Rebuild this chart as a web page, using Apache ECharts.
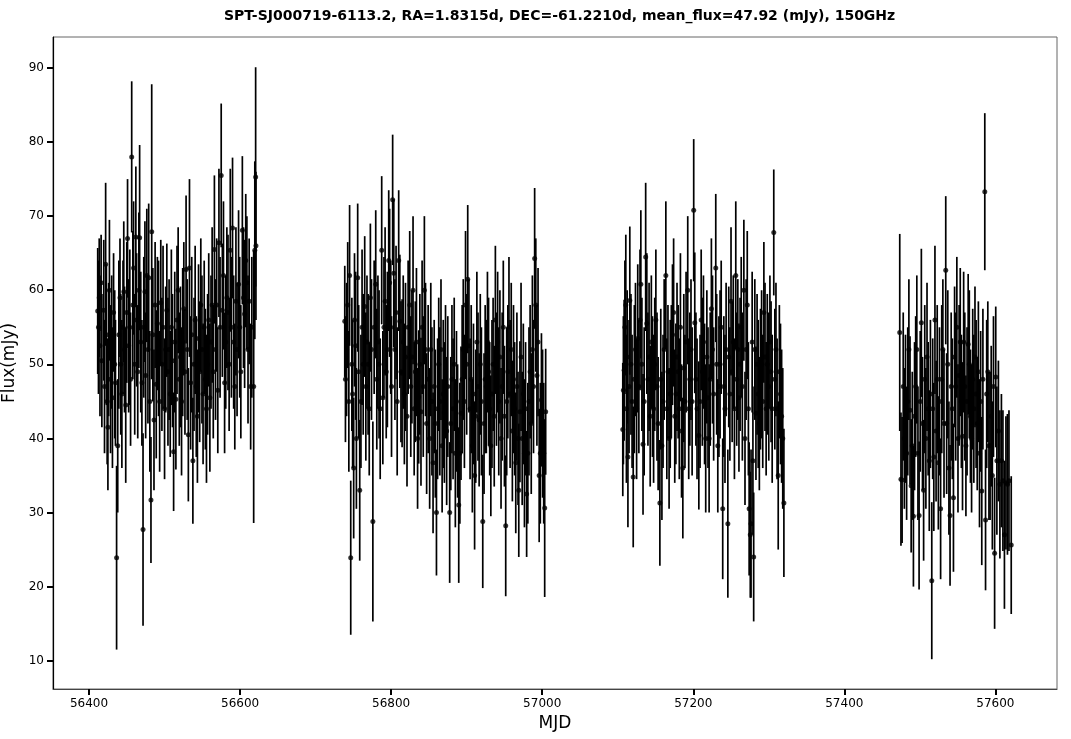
<!DOCTYPE html>
<html><head><meta charset="utf-8">
<script src="https://cdn.jsdelivr.net/npm/echarts@6/dist/echarts.min.js"></script>
<style>html,body{margin:0;padding:0;background:#fff}#c{width:1071px;height:739px}</style>
</head><body><div id="c"></div>
<script>
// [MJD, flux (mJy), error (mJy)]
const season1 = [
[56411.5,57.2,8.5],[56412.5,55.0,9.0],[56413.5,59.0,8.0],[56414.5,52.5,9.5],[56416,61.0,6.5],[56417,50.5,9.0],
[56419.5,57.3,9.5],[56420.5,47.0,9.0],[56422,63.5,11.0],[56423,54.0,9.5],[56424,45.0,8.5],[56425,41.5,8.5],
[56426,52.0,9.0],[56427,60.0,9.5],[56428.5,48.0,10.0],[56430,53.0,9.0],[56431,45.5,9.5],[56432.5,57.0,8.0],
[56434,50.0,10.0],[56435,47.5,8.5],[56436.5,23.9,12.4],[56438,39.0,9.0],[56439.5,54.0,10.0],[56441,59.0,8.0],
[56442,50.0,9.5],[56443.5,46.0,10.0],[56445,55.0,9.0],[56446,59.8,9.5],[56447,52.0,8.5],[56448.6,44.5,10.5],
[56450,57.0,9.5],[56451,67.0,8.0],[56452.5,52.5,9.0],[56454,55.0,10.5],[56455,48.0,9.0],[56456.5,78.0,10.2],
[56458,58.0,10.0],[56459,63.0,9.0],[56460.5,50.0,9.5],[56462,67.2,9.5],[56463,56.0,9.0],[56464.5,49.0,9.0],
[56466,60.0,10.5],[56467,67.1,12.5],[56468.5,53.0,9.5],[56470,47.5,8.5],[56471.5,27.7,13.0],[56472.5,55.0,9.5],
[56474,59.8,9.5],[56475,48.5,8.5],[56476.5,62.0,9.0],[56478,52.0,10.0],[56479,61.7,10.0],[56480.5,45.0,9.5],
[56482,31.7,8.5],[56483,67.9,19.9],[56484.5,54.0,9.0],[56486,42.5,9.5],[56487.5,58.0,8.5],[56489,47.3,10.0],
[56490.5,55.5,9.0],[56492,53.5,10.5],[56493.5,45.0,9.5],[56495,58.3,8.5],[56496.5,50.0,9.0],[56498,55.0,11.0],
[56500,44.0,9.5],[56501.5,52.0,8.5],[56503,57.3,9.0],[56504.5,49.0,10.0],[56506,52.0,9.5],[56507.5,46.0,8.5],
[56509,55.0,10.5],[56510.5,50.5,9.0],[56512,38.2,8.0],[56513.5,53.0,9.5],[56515,45.3,9.5],[56516.5,56.0,10.0],
[56518,60.0,8.5],[56519.5,48.0,9.0],[56521,51.0,9.5],[56522.5,45.0,10.0],[56524,53.0,10.0],[56525.5,57.5,9.0],
[56527,49.0,8.5],[56528.5,62.8,10.0],[56530,52.0,9.5],[56531.5,40.5,9.0],[56533,63.0,12.0],[56534.5,47.5,9.0],
[56536,54.0,10.5],[56537.5,37.0,8.5],[56539,50.0,9.0],[56540.5,56.0,10.0],[56542,47.0,9.5],[56543.5,43.0,9.0],
[56545,53.5,10.0],[56546.5,49.0,9.5],[56548,58.0,9.0],[56549.5,52.0,10.0],[56551,46.0,9.5],[56552.5,55.0,9.0],
[56554,48.0,9.5],[56555.5,44.0,10.0],[56557,50.0,9.5],[56558.5,56.0,9.0],[56560,45.5,10.0],[56561.5,53.0,9.0],
[56563,58.0,10.5],[56564.5,49.0,9.0],[56566,65.5,10.0],[56567.5,52.0,9.5],[56569,58.0,9.0],[56570.5,46.5,8.5],
[56572,66.4,10.0],[56573.5,55.0,9.5],[56575,75.5,9.7],[56576.5,57.3,9.0],[56578,62.0,10.0],[56579.5,47.5,9.5],
[56581,53.0,9.0],[56582.5,59.0,9.5],[56584,57.0,10.5],[56585.5,50.0,9.0],[56587,65.4,11.0],[56588.5,55.0,9.5],
[56590,68.4,9.5],[56591.5,53.0,9.0],[56593,47.0,8.5],[56594.5,58.5,10.0],[56596,52.0,9.0],[56598,60.8,10.0],
[56599.5,55.0,9.5],[56601,49.0,9.0],[56603,68.1,10.0],[56604.5,59.0,9.5],[56606,56.8,10.0],[56607.5,64.0,9.0],
[56609,61.0,9.0],[56610.5,52.0,10.0],[56612,58.5,8.5],[56614,47.0,8.5],[56615.5,55.0,9.5],[56618,47.0,18.4],
[56619.5,65.4,12.0],[56620.6,75.3,14.8],[56621,66.0,10.0]
];
const season2 = [
[56738.6,55.8,7.5],[56739.5,48.0,8.5],[56741,52.0,9.0],[56742.5,58.0,8.5],[56744,45.0,9.5],[56745,62.0,9.5],
[56746.5,23.9,10.4],[56748,50.0,9.0],[56749,46.0,10.0],[56750.4,36.0,9.5],[56751.5,56.0,9.0],[56753,52.5,10.0],
[56754,40.0,9.5],[56755.7,61.7,10.0],[56757,49.0,9.0],[56758.4,33.0,9.5],[56760,45.0,9.0],[56761.5,55.0,10.5],
[56763,50.0,9.5],[56765,57.8,9.5],[56766.5,47.0,10.0],[56768,53.0,9.0],[56769.5,50.0,9.5],[56771,44.0,9.0],
[56772.5,59.0,10.0],[56774,52.0,9.5],[56775.8,28.8,13.5],[56777.5,55.0,9.0],[56779.6,60.8,10.0],[56781,48.0,9.5],
[56782.5,53.0,9.0],[56784,50.0,10.0],[56785.5,44.0,9.5],[56787.5,65.4,10.0],[56789,45.5,9.0],[56790.5,55.0,9.5],
[56792,58.5,10.0],[56793.5,49.0,9.0],[56795,52.0,10.5],[56796.8,64.0,9.5],[56798,61.0,10.0],[56799.5,55.0,9.0],
[56800.5,47.0,9.5],[56802,72.2,8.8],[56803.5,62.3,10.0],[56805,52.0,9.5],[56806.5,57.0,9.0],[56808,45.0,10.0],
[56810,64.0,9.5],[56811.5,55.8,9.0],[56813,49.0,9.5],[56814.5,48.8,10.0],[56816,53.0,9.0],[56817.5,46.0,9.5],
[56819,51.0,10.0],[56821,43.0,9.5],[56822.5,55.0,9.0],[56824.6,58.0,10.0],[56826,47.0,9.5],[56827.5,51.0,9.0],
[56829,60.0,10.0],[56830.5,44.0,9.0],[56832,49.0,9.5],[56833.5,53.0,10.0],[56835,40.0,9.5],[56836.5,45.6,9.0],
[56838,50.0,9.5],[56839.5,43.6,10.0],[56841,55.0,9.0],[56842.5,47.0,9.5],[56844,60.0,10.0],[56845.5,52.0,9.0],
[56847,42.0,9.5],[56849,48.0,10.0],[56851,40.0,9.5],[56852.5,52.0,9.0],[56854,45.0,10.0],[56855.5,36.7,9.5],
[56857,47.0,9.0],[56858.5,42.0,10.0],[56860,30.0,8.5],[56861.5,44.0,9.5],[56863,50.0,9.0],[56864.5,45.0,10.0],
[56866,52.0,9.5],[56867.5,39.0,9.0],[56869,46.0,10.0],[56870.5,43.5,9.5],[56872,49.0,9.0],[56873.5,41.0,10.0],
[56875,47.0,9.5],[56877.5,30.0,9.5],[56879,42.0,9.0],[56880.5,48.0,10.0],[56882,44.0,9.5],[56883.5,50.0,9.0],
[56885,38.0,10.0],[56886.5,45.0,9.5],[56888,41.0,9.0],[56889.5,31.0,10.5],[56891,38.0,9.5],[56892.5,43.4,9.0],
[56894,48.0,10.0],[56895.5,52.0,9.5],[56897,45.0,9.0],[56898.5,58.0,10.0],[56900,50.0,9.5],[56901.4,61.5,10.0],
[56903,52.5,9.0],[56904.5,44.0,9.5],[56906,48.0,10.0],[56907.5,39.0,9.0],[56909,46.0,9.5],[56910.5,35.0,10.0],
[56912,43.0,9.0],[56913.5,53.0,9.5],[56915,47.0,10.0],[56916.5,42.5,9.0],[56918,50.0,9.5],[56919.5,45.0,10.0],
[56921.3,28.8,9.0],[56923,42.0,9.5],[56924.5,48.0,10.0],[56926,47.0,9.0],[56927.5,53.0,9.5],[56929,49.0,10.0],
[56930.5,44.0,9.0],[56932,39.0,9.5],[56933.5,46.0,10.0],[56935,50.0,9.0],[56936.5,43.0,9.5],[56938,56.0,10.0],
[56939.5,48.0,9.0],[56941,53.0,9.5],[56942.5,45.0,10.0],[56944,51.0,9.0],[56945.5,40.0,9.5],[56947,47.0,10.0],
[56948.5,55.0,9.0],[56950,43.0,9.5],[56951.7,28.2,9.5],[56953,45.0,10.0],[56954.5,49.0,9.0],[56956,55.0,9.5],
[56957.5,46.0,10.0],[56959,52.0,9.0],[56960.5,41.0,9.5],[56962,48.0,10.0],[56963.5,44.0,9.0],[56965,36.7,9.5],
[56966.5,47.0,10.0],[56968,40.0,9.0],[56969,33.0,9.0],[56970.5,43.6,9.5],[56972,51.0,10.0],[56973.5,40.0,9.0],
[56975,46.0,9.5],[56976.5,38.0,10.0],[56978,44.0,9.0],[56979.4,32.5,8.5],[56981,38.0,9.5],[56982.5,45.0,10.0],
[56984,49.0,9.0],[56985.5,42.0,9.5],[56987,52.0,10.0],[56988.5,47.0,9.0],[56990,64.3,9.5],[56991.5,58.0,9.0],
[56993,48.5,9.5],[56994.5,53.0,10.0],[56996,35.0,9.0],[56997.5,38.0,9.5],[56999,45.2,9.0],[57000.5,42.0,10.0],
[57002,38.0,9.5],[57003.3,30.6,12.0],[57004.6,43.6,8.5]
];
const season3 = [
[57106.7,41.2,9.0],[57107.5,46.5,10.0],[57108.5,49.2,9.5],[57109.5,55.0,9.0],[57110.7,58.0,9.5],[57111.5,44.0,10.0],
[57112.5,51.0,9.0],[57113.5,37.5,9.5],[57115,47.0,9.0],[57116,58.6,10.0],[57117.5,50.0,9.5],[57119,45.0,9.0],
[57120.5,34.8,9.5],[57122,48.0,10.0],[57123.5,52.0,9.0],[57125,44.0,9.5],[57126.5,53.5,10.0],[57128,47.0,9.0],
[57129.5,56.0,9.5],[57130.6,60.8,10.0],[57132,50.0,9.0],[57133.5,39.2,9.5],[57135,45.0,10.0],[57137,64.5,10.0],
[57138.5,55.5,9.5],[57140,48.0,9.0],[57141.5,51.0,10.0],[57143,43.0,9.5],[57144.5,53.0,9.0],[57146,47.0,9.5],
[57147.5,44.0,10.0],[57149,50.0,9.0],[57150.5,56.0,9.5],[57152,47.0,10.0],[57153.5,42.0,9.0],[57155.8,31.3,8.5],
[57157,48.0,9.5],[57158.5,39.0,10.0],[57160,45.0,9.0],[57161.5,52.0,9.5],[57163.7,62.0,10.0],[57165,44.0,9.5],
[57166.5,49.0,9.0],[57168,40.0,9.5],[57169.5,46.0,10.0],[57171,49.0,9.0],[57172.5,54.0,9.5],[57174,57.0,10.0],
[57175.5,43.0,9.0],[57177,46.0,9.5],[57178.5,51.0,10.0],[57180,49.0,9.0],[57181.5,44.0,9.5],[57183,55.0,10.0],
[57184.5,41.0,9.0],[57186.2,36.0,9.5],[57187.5,49.5,10.0],[57189,45.0,9.0],[57190.5,53.0,9.5],[57192.7,60.0,10.0],
[57194,44.0,9.5],[57195.5,48.0,9.0],[57197,52.0,9.5],[57198.5,45.0,10.0],[57200.6,70.8,9.6],[57202,55.6,9.5],
[57203.5,48.0,9.0],[57205,44.0,9.5],[57207.4,40.4,10.0],[57209,45.0,9.0],[57210.5,56.0,9.5],[57212,49.0,10.0],
[57213.5,53.0,9.0],[57215,46.0,9.5],[57216.5,40.0,10.0],[57218,51.0,9.0],[57219.5,45.5,9.5],[57221,40.0,10.0],
[57222.5,48.0,9.0],[57224,57.5,9.5],[57225.5,52.0,10.0],[57227,46.0,9.0],[57229.8,63.0,10.0],[57231,50.0,9.5],
[57232.5,39.0,9.0],[57234,47.0,9.5],[57235.5,50.0,10.0],[57237,55.0,9.0],[57239,30.5,9.5],[57240.5,47.0,9.5],
[57242,44.0,10.0],[57243.5,52.0,9.0],[57245.8,28.5,10.0],[57247,51.0,9.5],[57248.5,46.0,9.0],[57250,58.5,10.0],
[57251.5,49.0,9.5],[57253,53.0,9.0],[57254.5,44.0,9.5],[57256.3,62.0,10.0],[57257.5,48.0,9.0],[57259,52.0,9.5],
[57260.5,45.5,10.0],[57262,50.0,9.0],[57263.5,55.0,9.5],[57265,47.0,10.0],[57267,60.0,9.5],[57268.5,40.0,9.0],
[57270,52.0,9.5],[57271.5,58.0,10.0],[57273,44.0,9.0],[57274,30.5,9.0],[57275.5,27.0,8.5],[57276.5,28.5,10.0],
[57278,53.0,9.5],[57279,37.0,10.0],[57280,24.0,8.7],[57281.5,52.0,9.5],[57283,43.4,9.0],[57284.5,50.0,9.5],
[57286,46.0,10.0],[57287.5,42.0,9.0],[57289,48.0,9.5],[57290.5,50.0,10.0],[57292,45.0,9.0],[57293.5,57.0,9.5],
[57295,51.0,10.0],[57296.5,44.0,9.0],[57298,50.0,9.5],[57300,47.0,10.0],[57301.5,53.0,9.0],[57303,49.0,9.5],
[57304.5,44.0,10.0],[57306.6,67.8,8.5],[57308,48.0,9.5],[57309.5,52.0,9.0],[57311,44.0,9.5],[57312.5,35.0,10.0],
[57314,49.0,9.0],[57315.5,46.0,9.5],[57317,43.0,9.0],[57318.5,40.0,9.5],[57320,31.3,10.0]
];
const season4 = [
[57473.4,54.3,13.3],[57475,34.5,9.0],[57476.5,34.4,8.5],[57478,47.0,10.0],[57479.5,40.0,9.5],[57481,44.0,10.0],
[57482.5,38.0,9.0],[57484,45.0,10.0],[57485.5,52.0,9.5],[57487,43.8,10.0],[57488.5,33.6,9.0],[57490,39.0,10.0],
[57491.5,29.5,9.5],[57493,43.0,10.0],[57494.5,47.0,9.5],[57496,52.0,10.0],[57497.5,38.0,9.0],[57499,29.6,10.0],
[57500.5,45.0,9.5],[57502,55.6,10.0],[57503.5,42.0,9.0],[57505,33.0,9.5],[57506.5,48.0,10.0],[57508,40.0,9.5],
[57509.5,51.0,10.0],[57511,44.0,9.0],[57512.5,37.0,9.5],[57514,46.0,10.0],[57515.8,20.8,10.6],[57517,44.0,9.5],
[57518.5,37.5,10.0],[57520,56.0,10.0],[57521.5,41.0,9.5],[57523,48.0,10.0],[57524.5,36.7,9.0],[57526,45.0,10.0],
[57527.5,30.5,9.5],[57529,48.0,10.0],[57530.5,52.0,9.5],[57532,42.0,10.0],[57534.3,62.7,10.0],[57535.5,42.0,9.5],
[57537,50.0,10.0],[57538.5,36.0,9.0],[57540,29.6,9.5],[57541.5,47.0,10.0],[57543,44.0,9.5],[57544.5,32.0,10.0],
[57546,51.0,9.5],[57547.5,47.0,10.0],[57549,55.0,9.5],[57550.5,40.0,10.0],[57552,48.5,9.5],[57553.5,53.0,10.0],
[57555,45.0,9.0],[57556.5,40.3,10.0],[57558,53.0,9.5],[57559.5,47.0,10.0],[57561,39.0,9.5],[57562.5,45.0,10.0],
[57564,52.7,9.5],[57565.5,50.0,10.0],[57567,43.0,9.0],[57568.5,40.0,10.0],[57570,48.0,9.5],[57571.5,44.0,10.0],
[57573,51.0,9.5],[57574.5,46.0,10.0],[57576,42.0,9.0],[57577.5,49.0,9.5],[57579,38.0,10.0],[57580.5,45.0,9.5],
[57582,32.9,10.0],[57583.5,48.0,9.5],[57586,73.3,10.6],[57587,29.0,9.5],[57588.5,46.0,10.0],[57590,49.0,9.5],
[57591.5,39.0,10.0],[57593,39.0,10.0],[57594.5,43.0,9.5],[57596,35.0,10.0],[57597.5,47.0,9.5],[57599,24.5,10.2],
[57600.5,48.3,9.5],[57602,37.0,10.0],[57604,41.0,9.5],[57606,33.8,10.0],[57608,37.0,9.0],[57610,34.3,9.5],
[57612,27.0,10.0],[57614,34.0,9.0],[57616,33.8,9.5],[57618,34.3,9.5],[57621,25.6,9.3]
];
const xTicks = [56400, 56600, 56800, 57000, 57200, 57400, 57600];
const yTicks = [10, 20, 30, 40, 50, 60, 70, 80, 90];
const titleText = 'SPT-SJ000719-6113.2, RA=1.8315d, DEC=-61.2210d, mean_flux=47.92 (mJy), 150GHz';

const allPoints = season1.concat(season2, season3, season4);
const FONT = 'DejaVu Sans';

const chart = echarts.init(document.getElementById('c'), null, {renderer: 'canvas'});
chart.setOption({
  animation: false,
  backgroundColor: '#fff',
  title: {
    text: titleText, left: 219, top: 4,
    textStyle: {fontFamily: FONT, fontWeight: 'bold', fontSize: 14, color: '#000'}
  },
  grid: {left: 53, right: 14, top: 37, bottom: 50, show: true, borderColor: '#666', borderWidth: 1,
         containLabel: false, outerBoundsMode: 'none'},
  xAxis: {
    type: 'value', min: 56352.3, max: 57681.6,
    name: 'MJD', nameLocation: 'middle', nameGap: 22,
    nameTextStyle: {fontFamily: FONT, fontSize: 17, color: '#000'},
    splitLine: {show: false},
    axisLine: {show: true, lineStyle: {color: '#444', width: 1}},
    axisTick: {show: true, length: 6, customValues: xTicks, lineStyle: {color: '#000', width: 2}},
    axisLabel: {customValues: xTicks, fontFamily: FONT, fontSize: 12, color: '#000', margin: 9,
                formatter: function (v) { return String(Math.round(v)); }}
  },
  yAxis: {
    type: 'value', min: 6.18, max: 94.18,
    name: 'Flux(mJy)', nameLocation: 'middle', nameGap: 30, nameRotate: 90,
    nameTextStyle: {fontFamily: FONT, fontSize: 17, color: '#000'},
    splitLine: {show: false},
    axisLine: {show: true, lineStyle: {color: '#000', width: 1.2}},
    axisTick: {show: true, length: 6, customValues: yTicks, lineStyle: {color: '#000', width: 2}},
    axisLabel: {customValues: yTicks, fontFamily: FONT, fontSize: 12, color: '#000', margin: 9,
                formatter: function (v) { return String(Math.round(v)); }}
  },
  series: [
    {
      type: 'custom',
      data: allPoints,
      encode: {x: 0, y: 1},
      renderItem: function (params, api) {
        const x = api.value(0), y = api.value(1), e = api.value(2);
        const p1 = api.coord([x, y - e]);
        const p2 = api.coord([x, y + e]);
        return {type: 'line', shape: {x1: p1[0], y1: p1[1], x2: p2[0], y2: p2[1]},
                style: {stroke: '#000', lineWidth: 1.7}};
      },
      silent: true
    },
    {
      type: 'scatter',
      data: allPoints.map(d => [d[0], d[1]]),
      symbol: 'circle', symbolSize: 5,
      itemStyle: {color: '#000'},
      silent: true
    }
  ]
});
</script>
</body></html>
